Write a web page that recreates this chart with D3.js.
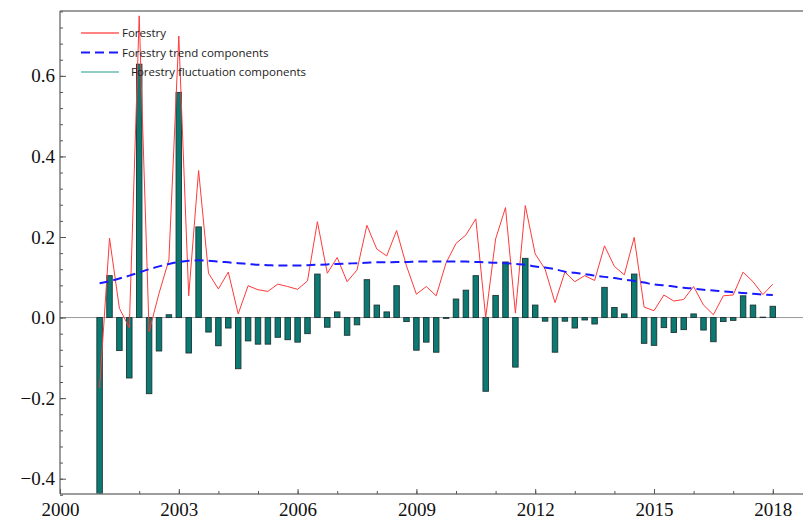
<!DOCTYPE html>
<html>
<head>
<meta charset="utf-8">
<script src="https://cdn.jsdelivr.net/npm/d3@7"></script>
<style>
  html, body { margin: 0; padding: 0; background: #fff; }
  svg { display: block; }
</style>
</head>
<body>
<div id="chart"></div>
<script>
// quarterly series, 2001Q1 .. 2018Q1
const startYear = 2001;

const forestry = [
  -0.175, 0.197, 0.023, -0.025, 0.749, -0.035, 0.060, 0.143, 0.699, 0.054,
  0.365, 0.110, 0.071, 0.113, 0.009, 0.079, 0.069, 0.065, 0.083, 0.077,
  0.070, 0.091, 0.238, 0.110, 0.149, 0.089, 0.118, 0.229, 0.170, 0.153,
  0.216, 0.128, 0.058, 0.077, 0.054, 0.136, 0.184, 0.205, 0.245, 0.000,
  0.195, 0.273, 0.011, 0.278, 0.158, 0.120, 0.037, 0.113, 0.089, 0.104,
  0.092, 0.178, 0.127, 0.106, 0.199, 0.026, 0.017, 0.056, 0.041, 0.045,
  0.077, 0.031, 0.007, 0.054, 0.056, 0.113, 0.089, 0.057, 0.083
];

const trend = [
  0.085, 0.090, 0.097, 0.104, 0.112, 0.120, 0.127, 0.133, 0.138, 0.141,
  0.142, 0.141, 0.139, 0.137, 0.135, 0.133, 0.131, 0.130, 0.129, 0.129,
  0.129, 0.130, 0.131, 0.132, 0.133, 0.134, 0.135, 0.136, 0.137, 0.137,
  0.138, 0.138, 0.139, 0.139, 0.139, 0.139, 0.139, 0.139, 0.138, 0.137,
  0.136, 0.135, 0.133, 0.131, 0.127, 0.124, 0.120, 0.114, 0.111, 0.108,
  0.104, 0.101, 0.098, 0.094, 0.091, 0.087, 0.082, 0.080, 0.077, 0.074,
  0.072, 0.069, 0.067, 0.065, 0.063, 0.061, 0.059, 0.057, 0.056
];

const fluctuation = [
  -0.460, 0.104, -0.082, -0.150, 0.629, -0.189, -0.083, 0.007, 0.559, -0.088,
  0.225, -0.036, -0.070, -0.026, -0.127, -0.058, -0.066, -0.066, -0.049, -0.055,
  -0.061, -0.040, 0.108, -0.024, 0.014, -0.044, -0.018, 0.094, 0.031, 0.014,
  0.079, -0.010, -0.081, -0.061, -0.086, -0.002, 0.046, 0.068, 0.104, -0.183,
  0.055, 0.138, -0.123, 0.147, 0.031, -0.009, -0.086, -0.009, -0.026, -0.006,
  -0.016, 0.075, 0.025, 0.009, 0.108, -0.064, -0.069, -0.025, -0.037, -0.030,
  0.009, -0.031, -0.060, -0.010, -0.007, 0.054, 0.031, 0.001, 0.028
];

const xTicks = [2000, 2003, 2006, 2009, 2012, 2015, 2018];
const yTicks = [-0.4, -0.2, 0.0, 0.2, 0.4, 0.6];
const legendLabels = ["Forestry", "Forestry trend components", "Forestry fluctuation components"];

const W = 803, H = 520;
const mLeft = 60, mTop = 11, mBottom = 494;

const quarters = forestry.map((d, i) => startYear + i / 4);

const svg = d3.select("#chart").append("svg")
  .attr("width", W)
  .attr("height", H);

const x = d3.scaleLinear().domain([2000, 2019]).range([mLeft, mLeft + 19 * 39.6]);
const y = d3.scaleLinear().domain([-0.438, 0.761]).range([mBottom, mTop]);

svg.append("defs").append("clipPath").attr("id", "plot")
  .append("rect").attr("x", mLeft).attr("y", mTop).attr("width", W - mLeft).attr("height", mBottom - mTop);

// zero line
svg.append("line")
  .attr("x1", mLeft).attr("x2", W)
  .attr("y1", y(0)).attr("y2", y(0))
  .attr("stroke", "#9a9a9a").attr("stroke-width", 1);

const plot = svg.append("g").attr("clip-path", "url(#plot)");

// fluctuation bars
const barW = 5.5;
plot.selectAll("rect.bar")
  .data(fluctuation)
  .join("rect")
  .attr("class", "bar")
  .attr("x", (d, i) => x(quarters[i]) - barW / 2)
  .attr("y", d => y(Math.max(0, d)))
  .attr("width", barW)
  .attr("height", d => Math.abs(y(d) - y(0)))
  .attr("fill", "#0b7a73")
  .attr("stroke", "#1e3433")
  .attr("stroke-width", 0.9);

// forestry line
plot.append("path")
  .datum(forestry)
  .attr("fill", "none")
  .attr("stroke", "#ff3a3a")
  .attr("stroke-width", 1)
  .attr("d", d3.line().x((d, i) => x(quarters[i])).y(d => y(d)));

// trend line
plot.append("path")
  .datum(trend)
  .attr("fill", "none")
  .attr("stroke", "#1a1aff")
  .attr("stroke-width", 2)
  .attr("stroke-dasharray", "9,5")
  .attr("d", d3.line().curve(d3.curveMonotoneX).x((d, i) => x(quarters[i])).y(d => y(d)));

// frame
const frame = svg.append("g").attr("stroke", "#7d7d7d").attr("stroke-width", 1.5).attr("fill", "none");
frame.append("line").attr("x1", mLeft).attr("x2", W).attr("y1", mTop).attr("y2", mTop);
frame.append("line").attr("x1", mLeft).attr("x2", W).attr("y1", mBottom).attr("y2", mBottom);
frame.append("line").attr("x1", mLeft).attr("x2", mLeft).attr("y1", mTop).attr("y2", mBottom);

// x axis (ticks point inward)
const xAxis = svg.append("g").attr("transform", `translate(0,${mBottom})`);
xAxis.call(d3.axisBottom(x).tickValues(d3.range(2000, 2019)).tickSize(-3).tickFormat(""))
  .call(g => g.select(".domain").remove())
  .call(g => g.selectAll("line").attr("stroke", "#555"));
xAxis.append("g")
  .call(d3.axisBottom(x).tickValues(xTicks).tickSize(-5).tickFormat(d3.format("d")))
  .call(g => g.select(".domain").remove())
  .call(g => g.selectAll("line").attr("stroke", "#555"))
  .call(g => g.selectAll("text")
    .attr("y", 22)
    .attr("dy", 0)
    .attr("fill", "#111")
    .style("font-family", "'Liberation Serif', 'Times New Roman', serif")
    .style("font-size", "19px"));

// y axis
const yAxis = svg.append("g").attr("transform", `translate(${mLeft},0)`);
yAxis.call(d3.axisLeft(y).tickValues(d3.range(-0.44, 0.761, 0.04)).tickSize(-3).tickFormat(""))
  .call(g => g.select(".domain").remove())
  .call(g => g.selectAll("line").attr("stroke", "#555"));
yAxis.append("g")
  .call(d3.axisLeft(y).tickValues(yTicks).tickSize(-6).tickFormat(d3.format(".1f")))
  .call(g => g.select(".domain").remove())
  .call(g => g.selectAll("line").attr("stroke", "#555"))
  .call(g => g.selectAll("text")
    .attr("x", -5)
    .attr("fill", "#111")
    .style("font-family", "'Liberation Serif', 'Times New Roman', serif")
    .style("font-size", "19px"));

// legend
const legend = svg.append("g").style("font-family", "'Open Sans', 'Noto Sans', sans-serif").style("font-size", "11.5px");
const legendItems = [
  { label: legendLabels[0], color: "#ff5a5a", dash: null, width: 1.5, tx: 122 },
  { label: legendLabels[1], color: "#1a1aff", dash: "9,5", width: 2, tx: 122 },
  { label: legendLabels[2], color: "#8ccdc6", dash: null, width: 2, tx: 131 }
];
legendItems.forEach((d, i) => {
  const ly = 33 + i * 19.5;
  legend.append("line")
    .attr("x1", 81).attr("x2", 119).attr("y1", ly).attr("y2", ly)
    .attr("stroke", d.color).attr("stroke-width", d.width)
    .attr("stroke-dasharray", d.dash);
  legend.append("text")
    .attr("x", d.tx).attr("y", ly + 4)
    .attr("fill", "#222")
    .text(d.label);
});
</script>
</body>
</html>
